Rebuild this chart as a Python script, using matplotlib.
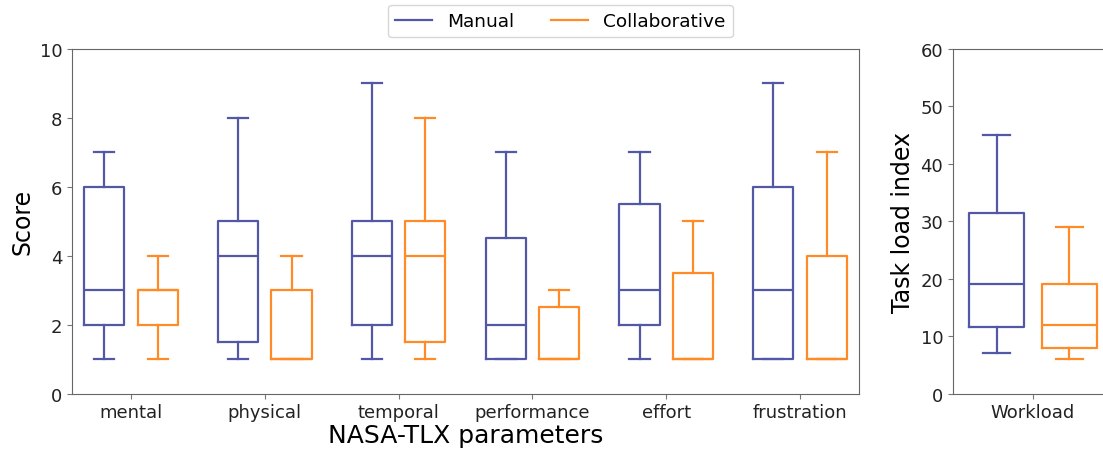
import matplotlib
matplotlib.use('Agg')
from matplotlib import pyplot
from matplotlib.lines import Line2D

categories = ['mental', 'physical', 'temporal', 'performance', 'effort', 'frustration']

# five-number summaries: (whislo, q1, med, q3, whishi)
manual_stats = [(1, 2, 3, 6, 7),
                (1, 1.5, 4, 5, 8),
                (1, 2, 4, 5, 9),
                (1, 1, 2, 4.5, 7),
                (1, 2, 3, 5.5, 7),
                (1, 1, 3, 6, 9)]
collab_stats = [(1, 2, 3, 3, 4),
                (1, 1, 1, 3, 4),
                (1, 1.5, 4, 5, 8),
                (1, 1, 1, 2.5, 3),
                (1, 1, 1, 3.5, 5),
                (1, 1, 1, 4, 7)]
workload_manual = (7, 11.5, 19, 31.5, 45)
workload_collab = (6, 8, 12, 19, 29)

c_manual = '#5257a6'
c_collab = '#ff8a26'


def to_bxp(stats):
    out = []
    for lo, q1, med, q3, hi in stats:
        out.append(dict(whislo=lo, q1=q1, med=med, q3=q3, whishi=hi, fliers=[]))
    return out


def draw(ax, stats, positions, color):
    props = dict(color=color, linewidth=1.6)
    ax.bxp(to_bxp(stats), positions=positions, widths=0.3, showfliers=False,
           boxprops=props, whiskerprops=props, capprops=props, medianprops=props,
           manage_ticks=False)


fig = pyplot.figure(figsize=(11.03, 4.52), dpi=100)
ax1 = fig.add_axes([0.0653, 0.1272, 0.7135, 0.7622])
ax2 = fig.add_axes([0.864, 0.1272, 0.145, 0.7622])

n = len(categories)
draw(ax1, manual_stats, [i - 0.2 for i in range(n)], c_manual)
draw(ax1, collab_stats, [i + 0.2 for i in range(n)], c_collab)
ax1.set_xticks(range(n))
ax1.set_xticklabels(categories)
ax1.set_xlim(-0.44, n - 1 + 0.44)
ax1.set_ylim(0, 10)
ax1.set_ylabel('Score', fontsize=17)
ax1.set_xlabel('NASA-TLX parameters', fontsize=18, labelpad=1)

draw(ax2, [workload_manual], [-0.2], c_manual)
draw(ax2, [workload_collab], [0.2], c_collab)
ax2.set_xticks([0])
ax2.set_xticklabels(['Workload'])
ax2.set_xlim(-0.44, 0.44)
ax2.set_ylim(0, 60)
ax2.set_ylabel('Task load index', fontsize=17)

for ax in (ax1, ax2):
    ax.tick_params(labelsize=13, color='#777777', labelcolor='#222222')
    for s in ax.spines.values():
        s.set_color('#666666')

handles = [Line2D([], [], color=c_manual, linewidth=1.6),
           Line2D([], [], color=c_collab, linewidth=1.6)]
fig.legend(handles, ['Manual', 'Collaborative'], loc='upper center',
           bbox_to_anchor=(0.508, 1.008), ncol=2, fontsize=13.3)

fig.savefig('out.png', dpi=100)
